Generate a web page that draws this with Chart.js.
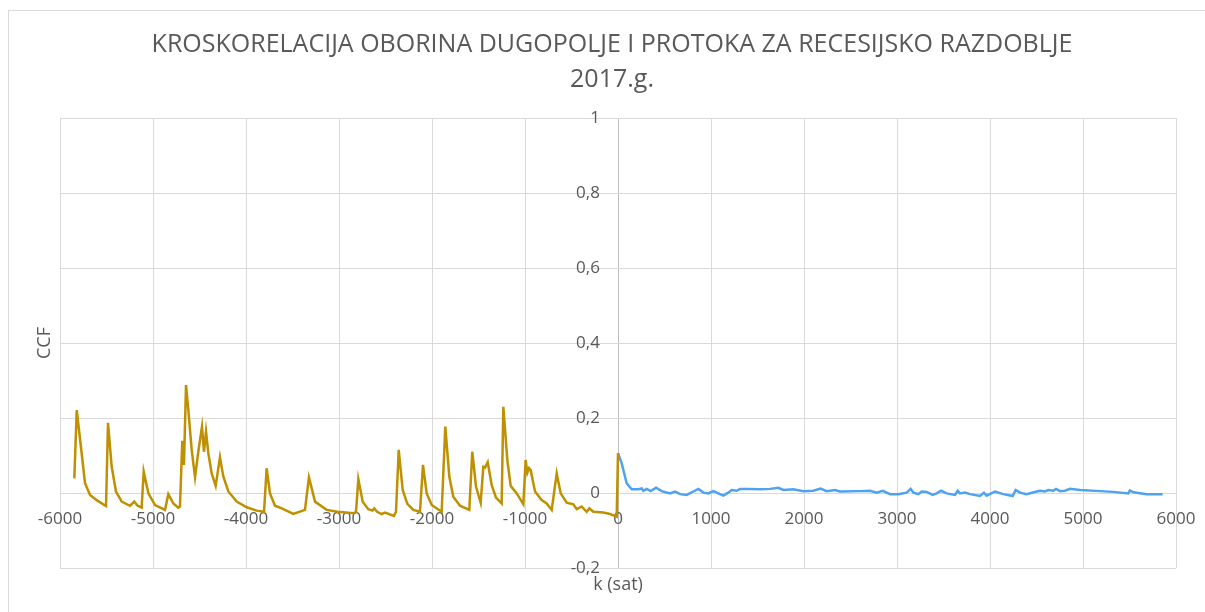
<!DOCTYPE html>
<html lang="hr">
<head>
    <meta charset="UTF-8">
    <title>Kroskorelacija oborina Dugopolje i protoka</title>
    <script src="https://cdn.jsdelivr.net/npm/chart.js"></script>
    <style>
        body {
            margin: 0;
            background-color: white;
            overflow: hidden;
        }
        .frame {
            position: absolute;
            left: 8px;
            top: 10px;
            width: 1300px;
            height: 700px;
            border: 1px solid #d9d9d9;
        }
        #ccfChart {
            position: absolute;
            left: 0;
            top: 0;
        }
    </style>
</head>
<body>
    <div class="frame"></div>
    <canvas id="ccfChart" width="1205" height="612"></canvas>

    <script>
        // Lag k (sat) and CCF, negative lags
        const lagNeg = [-5846, -5820, -5767, -5731, -5677, -5606, -5505, -5484, -5444, -5398,
            -5337, -5247, -5201, -5165, -5122, -5100, -5050, -4978, -4871, -4835,
            -4781, -4728, -4710, -4685, -4667, -4645, -4620, -4584, -4548, -4513,
            -4473, -4452, -4430, -4405, -4369, -4326, -4280, -4244, -4190, -4100,
            -3993, -3885, -3806, -3778, -3742, -3688, -3616, -3491, -3366, -3323,
            -3258, -3133, -3015, -2846, -2817, -2792, -2745, -2685, -2640, -2620,
            -2590, -2541, -2505, -2409, -2387, -2358, -2315, -2265, -2201, -2129,
            -2097, -2057, -2003, -1896, -1857, -1814, -1771, -1699, -1599, -1567,
            -1527, -1477, -1448, -1430, -1401, -1358, -1312, -1251, -1233, -1190,
            -1154, -1089, -1018, -993, -975, -957, -939, -892, -821, -767,
            -713, -659, -616, -552, -480, -444, -391, -337, -308, -265,
            -158, -86, -14, 0];
        const ccfNeg = [0.039, 0.221, 0.106, 0.026, -0.005, -0.019, -0.035, 0.187, 0.070, 0.004,
            -0.023, -0.034, -0.023, -0.034, -0.039, 0.057, -0.001, -0.032, -0.045, -0.003,
            -0.028, -0.039, -0.036, 0.139, 0.075, 0.288, 0.221, 0.115, 0.042, 0.110,
            0.177, 0.110, 0.164, 0.106, 0.052, 0.019, 0.095, 0.044, 0.004, -0.023,
            -0.038, -0.047, -0.050, 0.066, -0.001, -0.034, -0.041, -0.056, -0.045, 0.042,
            -0.023, -0.045, -0.050, -0.054, -0.050, 0.037, -0.023, -0.043, -0.047, -0.041,
            -0.050, -0.056, -0.052, -0.061, -0.050, 0.115, 0.008, -0.029, -0.045, -0.050,
            0.075, -0.001, -0.032, -0.050, 0.177, 0.044, -0.010, -0.034, -0.045, 0.110,
            0.017, -0.026, 0.070, 0.068, 0.082, 0.021, -0.012, -0.028, 0.230, 0.088,
            0.019, -0.001, -0.030, 0.088, 0.054, 0.066, 0.061, 0.004, -0.019, -0.028,
            -0.045, 0.052, -0.001, -0.026, -0.030, -0.043, -0.036, -0.050, -0.041, -0.050,
            -0.052, -0.056, -0.063, 0.106];

        // Positive lags
        const lagPos = [0, 40, 93, 147, 219, 255, 272, 308, 351, 409,
            470, 559, 613, 667, 738, 810, 864, 918, 971, 1025,
            1079, 1133, 1186, 1222, 1276, 1312, 1384, 1527, 1634, 1724,
            1778, 1885, 1993, 2100, 2179, 2244, 2333, 2387, 2602, 2710,
            2782, 2846, 2925, 3014, 3104, 3147, 3176, 3229, 3265, 3319,
            3383, 3426, 3473, 3534, 3624, 3652, 3677, 3731, 3785, 3892,
            3935, 3964, 4054, 4143, 4244, 4276, 4323, 4394, 4502, 4538,
            4591, 4627, 4681, 4710, 4753, 4806, 4860, 4968, 5183, 5326,
            5487, 5505, 5541, 5685, 5857];
        const ccfPos = [0.106, 0.079, 0.026, 0.010, 0.010, 0.012, 0.006, 0.011, 0.005, 0.014,
            0.005, -0.001, 0.004, -0.003, -0.005, 0.004, 0.011, 0.001, -0.001, 0.005,
            -0.001, -0.007, 0.001, 0.008, 0.006, 0.011, 0.011, 0.010, 0.011, 0.014,
            0.008, 0.010, 0.005, 0.006, 0.012, 0.005, 0.008, 0.004, 0.005, 0.006,
            0.001, 0.006, -0.003, -0.003, 0.001, 0.011, 0.001, -0.003, 0.004, 0.003,
            -0.005, -0.001, 0.006, -0.001, -0.005, 0.006, -0.001, 0.001, -0.003, -0.008,
            0.001, -0.007, 0.004, -0.003, -0.008, 0.008, 0.001, -0.003, 0.004, 0.006,
            0.004, 0.008, 0.006, 0.011, 0.005, 0.006, 0.011, 0.008, 0.005, 0.003,
            -0.001, 0.007, 0.002, -0.003, -0.003];

        const titleLines = ['KROSKORELACIJA OBORINA DUGOPOLJE I PROTOKA ZA RECESIJSKO RAZDOBLJE', '2017.g.'];
        const xTitle = 'k (sat)';
        const yTitle = 'CCF';

        const textColor = '#595959';
        const fontFamily = "'Open Sans', sans-serif";

        function toPoints(xs, ys) {
            return xs.map((x, i) => ({ x: x, y: ys[i] }));
        }

        // Title and axis titles, drawn after the chart
        const titlesPlugin = {
            id: 'titles',
            afterDraw(chart) {
                const c = chart.ctx;
                c.save();
                c.fillStyle = textColor;
                c.textAlign = 'center';
                c.textBaseline = 'middle';
                c.font = "25px " + fontFamily;
                c.fillText(titleLines[0], 612, 45);
                c.fillText(titleLines[1], 612, 80);
                c.font = "18px " + fontFamily;
                c.fillText(xTitle, 618, 585);
                c.translate(45, 343);
                c.rotate(-Math.PI / 2);
                c.fillText(yTitle, 0, 0);
                c.restore();
            }
        };

        // the two zero lines are a bit darker than the rest of the grid
        function gridColor(ctx) {
            return ctx.tick && ctx.tick.value === 0 ? '#bfbfbf' : '#d9d9d9';
        }

        const ctx = document.getElementById('ccfChart').getContext('2d');
        const chart = new Chart(ctx, {
            type: 'scatter',
            data: {
                datasets: [
                    {
                        label: 'k < 0',
                        data: toPoints(lagNeg, ccfNeg),
                        showLine: true,
                        borderColor: '#bf9000',
                        borderWidth: 2.5,
                        pointRadius: 0,
                        tension: 0
                    },
                    {
                        label: 'k > 0',
                        data: toPoints(lagPos, ccfPos),
                        showLine: true,
                        borderColor: '#4ea2f2',
                        borderWidth: 2.5,
                        pointRadius: 0,
                        tension: 0
                    }
                ]
            },
            options: {
                responsive: false,
                animation: false,
                layout: {
                    padding: { left: 60, right: 29, top: 118, bottom: 44 }
                },
                plugins: {
                    legend: { display: false },
                    title: { display: false },
                    tooltip: { enabled: false }
                },
                scales: {
                    x: {
                        type: 'linear',
                        // labels sit a little under the zero line
                        position: { y: -0.042 },
                        min: -6000,
                        max: 6000,
                        grid: { color: gridColor, lineWidth: 1, drawTicks: false },
                        border: { display: false },
                        ticks: {
                            stepSize: 1000,
                            padding: 0,
                            color: textColor,
                            font: { family: fontFamily, size: 17 },
                            maxRotation: 0,
                            callback: v => String(v)
                        }
                    },
                    y: {
                        type: 'linear',
                        // labels end just left of the k = 0 line
                        position: { x: -194 },
                        min: -0.2,
                        max: 1,
                        grid: { color: gridColor, lineWidth: 1, drawTicks: false },
                        border: { display: false },
                        ticks: {
                            stepSize: 0.2,
                            padding: 0,
                            color: textColor,
                            font: { family: fontFamily, size: 17 },
                            callback: v => String(Math.round(v * 10) / 10).replace('.', ',')
                        }
                    }
                }
            },
            plugins: [titlesPlugin]
        });
    </script>
</body>
</html>
